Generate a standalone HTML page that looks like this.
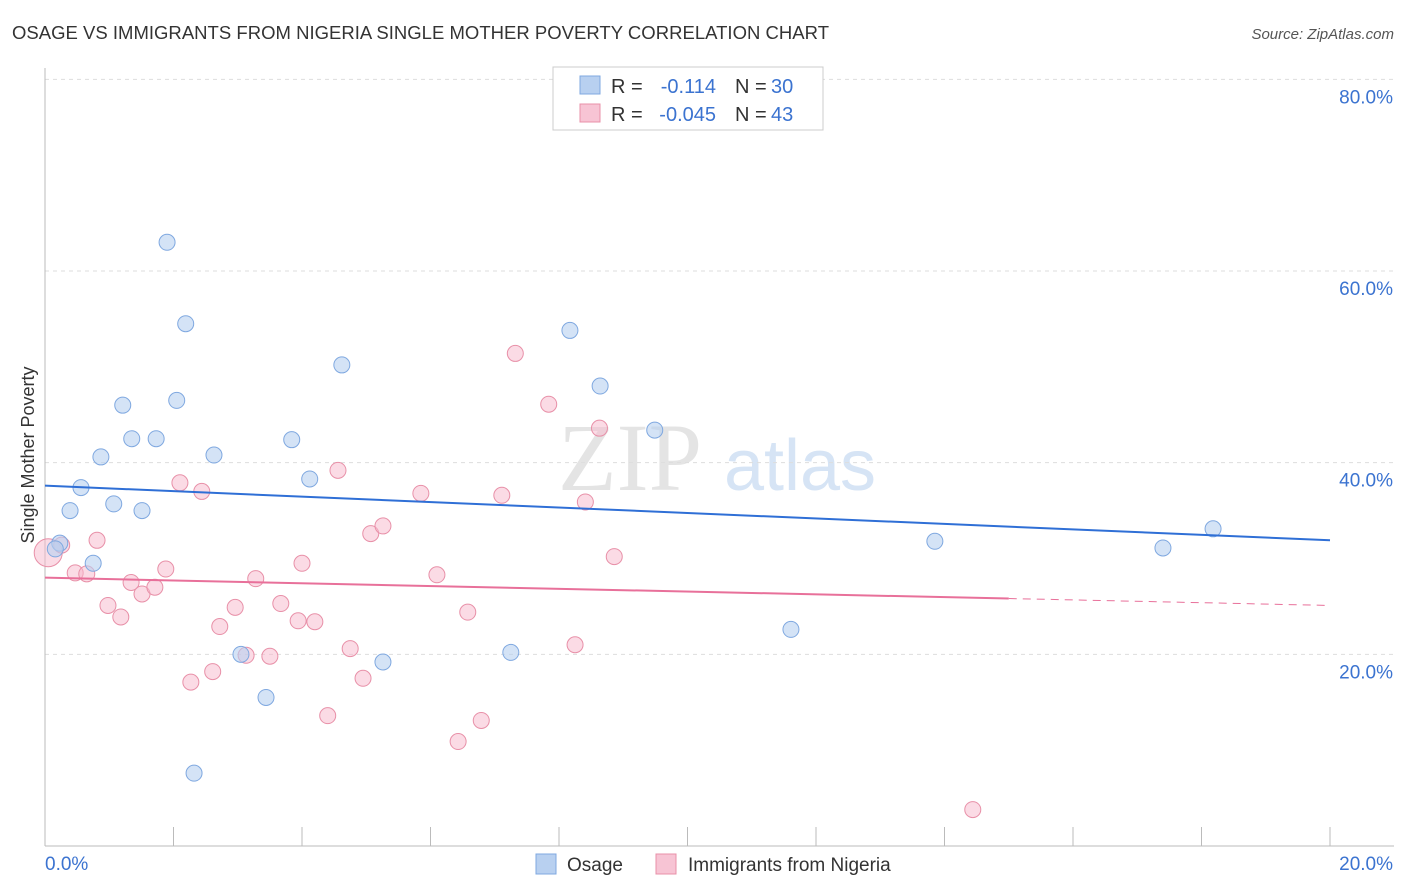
<!DOCTYPE html>
<html><head><meta charset="utf-8"><style>
body{margin:0;background:#fff;font-family:"Liberation Sans",sans-serif;}
svg{display:block}
</style></head><body>
<svg id="chart" width="1406" height="892">
<text x="12" y="39" font-size="18.5" fill="#333" textLength="817">OSAGE VS IMMIGRANTS FROM NIGERIA SINGLE MOTHER POVERTY CORRELATION CHART</text>
<text x="1394" y="39" font-size="15" fill="#555" font-style="italic" text-anchor="end">Source: ZipAtlas.com</text>
<text x="630" y="490" font-size="96" fill="#e4e4e4" font-family="Liberation Serif,serif" text-anchor="middle">ZIP</text>
<text x="800" y="490" font-size="72" fill="#d6e4f5" text-anchor="middle">atlas</text>
<text transform="translate(34,455) rotate(-90)" font-size="18" fill="#333" text-anchor="middle">Single Mother Poverty</text>
<g id="grid"></g><g id="marks"></g>
<g>
<rect x="553" y="67" width="270" height="63" fill="#fff" stroke="#ccc"/>
<rect x="580" y="76" width="20" height="18" fill="#b8d0f0" stroke="#7fa8e0"/>
<rect x="580" y="104" width="20" height="18" fill="#f7c4d4" stroke="#e890a8"/>
<text x="611" y="93" font-size="20" fill="#333">R =</text>
<text x="716" y="93" font-size="20" fill="#3b73d0" text-anchor="end">-0.114</text>
<text x="735" y="93" font-size="20" fill="#333">N =</text>
<text x="771" y="93" font-size="20" fill="#3b73d0">30</text>
<text x="611" y="121" font-size="20" fill="#333">R =</text>
<text x="716" y="121" font-size="20" fill="#3b73d0" text-anchor="end">-0.045</text>
<text x="735" y="121" font-size="20" fill="#333">N =</text>
<text x="771" y="121" font-size="20" fill="#3b73d0">43</text>
</g>
<g>
<rect x="536" y="854" width="20" height="20" fill="#b8d0f0" stroke="#7fa8e0"/>
<text x="567" y="871" font-size="19" fill="#333">Osage</text>
<rect x="656" y="854" width="20" height="20" fill="#f7c4d4" stroke="#e890a8"/>
<text x="688" y="871" font-size="19" fill="#333">Immigrants from Nigeria</text>
</g>
</svg>
<script>
const yTicks=[20,40,60,80];
const xTickLabels=["0.0%","20.0%"];
const osageX=[0.23,0.39,0.56,0.75,0.87,1.07,1.21,1.35,1.51,1.73,1.90,2.05,2.19,2.32,2.63,3.05,3.44,3.84,4.12,4.62,5.26,7.25,8.17,8.64,9.49,11.61,13.85,17.40,18.18,0.16];
const osageY=[31.6,35.0,37.4,29.5,40.6,35.7,46.0,42.5,35.0,42.5,63.0,46.5,54.5,7.6,40.8,20.0,15.5,42.4,38.3,50.2,19.2,20.2,53.8,48.0,43.4,22.6,31.8,31.1,33.1,31.0];
const nigX=[0.05,0.26,0.47,0.65,0.81,0.98,1.18,1.34,1.51,1.71,1.88,2.10,2.27,2.44,2.61,2.72,2.96,3.13,3.28,3.50,3.67,3.94,4.00,4.20,4.40,4.56,4.75,4.95,5.07,5.26,5.85,6.10,6.43,6.58,6.79,7.11,7.32,7.84,8.25,8.41,8.63,8.86,14.44];
const nigY=[30.6,31.4,28.5,28.4,31.9,25.1,23.9,27.5,26.3,27.0,28.9,37.9,17.1,37.0,18.2,22.9,24.9,19.9,27.9,19.8,25.3,23.5,29.5,23.4,13.6,39.2,20.6,17.5,32.6,33.4,36.8,28.3,10.9,24.4,13.1,36.6,51.4,46.1,21.0,35.9,43.6,30.2,3.8];
const osageTrend=[37.6,31.9];
const nigTrend=[28.0,25.1];
const NS="http://www.w3.org/2000/svg";
const X=v=>45+v*64.25, Y=v=>846-v*9.583;
function mk(t,a,p){const e=document.createElementNS(NS,t);for(const k in a)e.setAttribute(k,a[k]);p.appendChild(e);return e;}
const g=document.getElementById('grid'),m=document.getElementById('marks');
yTicks.forEach(t=>{
 const l=mk('line',{x1:45,x2:1394,y1:Y(t),y2:Y(t),stroke:'#ddd','stroke-dasharray':'4,4'},g);
 
 
 const tx=mk('text',{x:1393,y:Y(t)+24,'font-size':19,fill:'#3b73d0','text-anchor':'end'},g);tx.textContent=t+'.0%';
 
 
});
const ax=mk('line',{x1:45,x2:1394,y1:846,y2:846,stroke:'#bbb'},g);


const ay=mk('line',{x1:45,x2:45,y1:68,y2:846,stroke:'#bbb'},g);


for(let i=0;i<=10;i++){const t=mk('line',{x1:X(i*2),x2:X(i*2),y1:827,y2:846,stroke:'#bbb'},g);
 
 }
[[0,'start',45],[20,'end',1393]].forEach((d,i)=>{const t=mk('text',{x:d[2],y:870,'font-size':19,fill:'#3b73d0','text-anchor':d[1]},g);t.textContent=xTickLabels[i];
 
 });
nigX.forEach((x,i)=>{const c=mk('circle',{cx:X(x),cy:Y(nigY[i]),r:i==0?14:8,fill:'#f7b8cc','fill-opacity':0.5,stroke:'#e890a8','stroke-width':1},m);
 
 });
osageX.forEach((x,i)=>{const c=mk('circle',{cx:X(x),cy:Y(osageY[i]),r:8,fill:'#b8d0f0','fill-opacity':0.6,stroke:'#7fa8e0','stroke-width':1},m);
 
 });
const bl=mk('line',{x1:X(0),y1:Y(osageTrend[0]),x2:X(20),y2:Y(osageTrend[1]),stroke:'#2f6fd6','stroke-width':2},m);


const py=x=>nigTrend[0]+(nigTrend[1]-nigTrend[0])*x/20;
const pl=mk('line',{x1:X(0),y1:Y(py(0)),x2:X(15),y2:Y(py(15)),stroke:'#e8709a','stroke-width':2},m);


const pd=mk('line',{x1:X(15),y1:Y(py(15)),x2:X(20),y2:Y(py(20)),stroke:'#e8709a','stroke-width':1,'stroke-dasharray':'8,6'},m);


</script>
</body></html>
